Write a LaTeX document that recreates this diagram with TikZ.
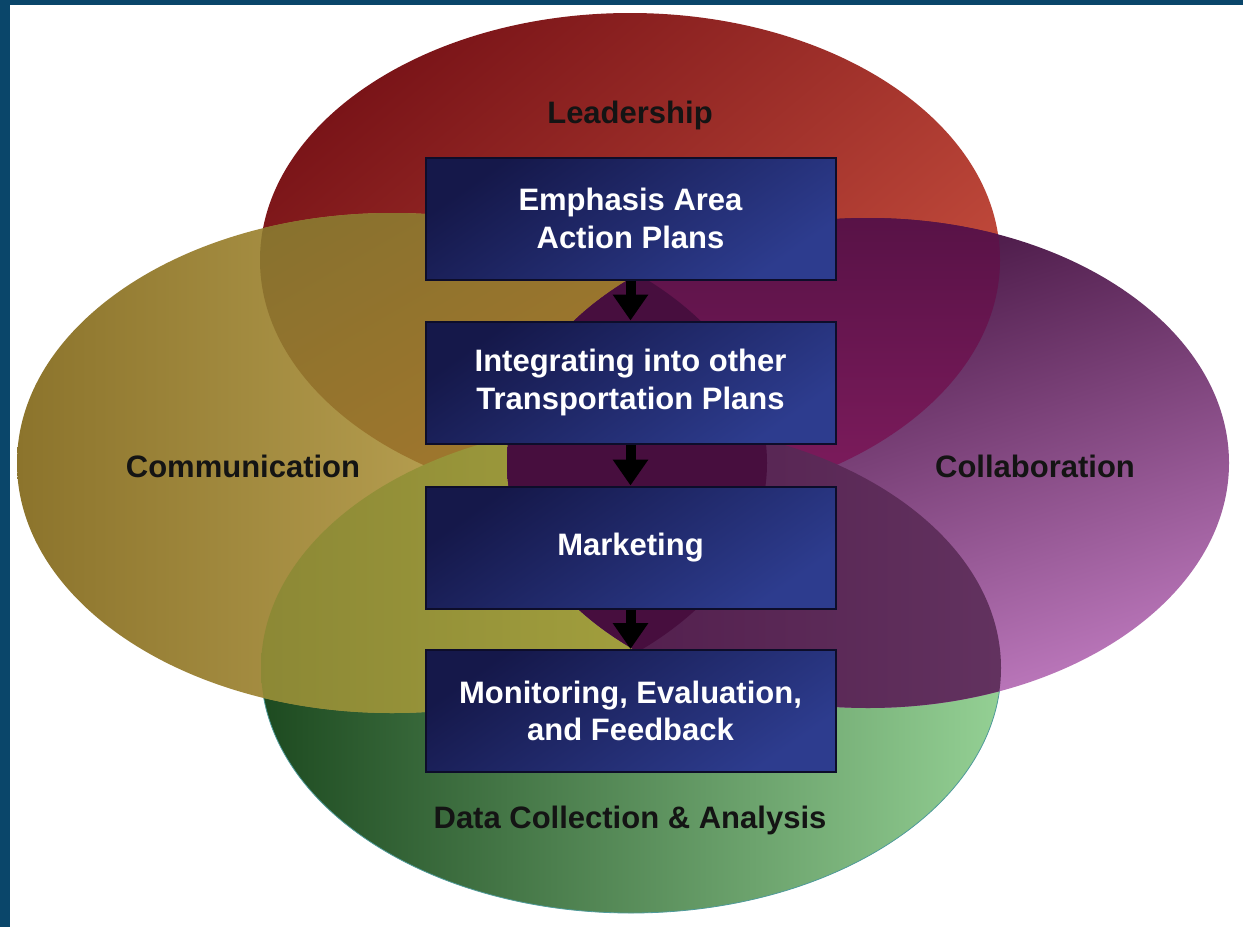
\documentclass[tikz,border=0pt]{standalone}
\usepackage{fontspec}
\setmainfont{Liberation Sans}
\usetikzlibrary{arrows.meta}
\definecolor{frameblue}{HTML}{0A466A}
\definecolor{redA}{HTML}{7A1418}
\definecolor{redB}{HTML}{C9503F}
\definecolor{goldA}{HTML}{8C742C}
\definecolor{goldM}{HTML}{C9B25F}
\definecolor{goldB}{HTML}{D4BD6A}
\definecolor{purA}{HTML}{380A34}
\definecolor{purB}{HTML}{BC78BC}
\definecolor{grnA}{HTML}{1D4A20}
\definecolor{grnB}{HTML}{94D094}
\definecolor{grnedge}{HTML}{4E9A9A}
\definecolor{rgA}{HTML}{86712E}
\definecolor{rgB}{HTML}{B27A2C}
\definecolor{ggA}{HTML}{7F7A30}
\definecolor{ggB}{HTML}{A8A640}
\definecolor{rpA}{HTML}{3C0B36}
\definecolor{rpB}{HTML}{801C5E}
\definecolor{pgold}{HTML}{470E3E}
\definecolor{pgA}{HTML}{450E3E}
\definecolor{pgB}{HTML}{62325F}
\definecolor{boxA}{HTML}{15184A}
\definecolor{boxB}{HTML}{2D3C8E}
\definecolor{boxline}{HTML}{0D0D2A}
\definecolor{labeltext}{HTML}{141414}
\begin{document}
\begin{tikzpicture}[x=1pt,y=-1pt,
  stepbox/.style={draw=boxline, line width=2pt, minimum width=410pt, minimum height=122pt,
    inner sep=0pt, top color=boxA, bottom color=boxB, shading angle=35,
    text=white, align=center, font=\bfseries\fontsize{31}{37.5}\selectfont},
  circlabel/.style={text=labeltext, font=\bfseries\fontsize{31}{37.5}\selectfont},
  flow/.style={line width=10pt, -{Triangle[width=34pt,length=26pt]}}]
\useasboundingbox (0,0) rectangle (1243,927);
\fill[white] (0,0) rectangle (1243,927);
\fill[frameblue] (0,0) rectangle (10,927);
\fill[frameblue] (0,0) rectangle (1243,5);

% base ellipses
\shade[top color=redA, bottom color=redB, shading angle=40] (630,260) ellipse [x radius=370, y radius=247];
\shade[left color=grnA, right color=grnB] (631,668) ellipse [x radius=370, y radius=245];
\draw[grnedge, line width=0.8pt] (631,668) ellipse [x radius=370, y radius=245];
\shade[left color=goldA, middle color=goldM, right color=goldB] (392,463) ellipse [x radius=375, y radius=250];
% red & gold overlap
\begin{scope}
\clip (630,260) ellipse [x radius=370, y radius=247];
\shade[top color=rgA, bottom color=rgB, shading angle=30] (392,463) ellipse [x radius=375, y radius=250];
\end{scope}
% gold & green overlap
\begin{scope}
\clip (631,668) ellipse [x radius=370, y radius=245];
\shade[left color=ggA, right color=ggB] (392,463) ellipse [x radius=375, y radius=250];
\end{scope}
% purple
\shade[top color=purA, bottom color=purB, shading angle=18] (868,463) ellipse [x radius=361, y radius=245];
\begin{scope}
\clip (868,463) ellipse [x radius=361, y radius=245];
\shade[top color=rpA, bottom color=rpB] (630,260) ellipse [x radius=370, y radius=247];
\shade[left color=pgA, right color=pgB] (631,668) ellipse [x radius=370, y radius=245];
\fill[pgold] (392,463) ellipse [x radius=375, y radius=250];
\end{scope}

% labels
\node[circlabel] (lead) at (630,115) {Leadership};
\node[circlabel] (comm) at (243,466) {Communication};
\node[circlabel] (collab) at (1035,466) {Collaboration};
\node[circlabel] (data) at (630,820) {Data Collection \& Analysis};

% boxes
\node[stepbox] (b1) at (630.5,218.5) {Emphasis Area\\Action Plans};
\node[stepbox] (b2) at (630.5,382.5) {Integrating into other\\Transportation Plans};
\node[stepbox] (b3) at (630.5,547.5) {Marketing};
\node[stepbox] (b4) at (630.5,711) {Monitoring, Evaluation,\\and Feedback};

\draw[flow] (b1.south) -- (b2.north);
\draw[flow] (b2.south) -- (b3.north);
\draw[flow] (b3.south) -- (b4.north);
\end{tikzpicture}
\end{document}
